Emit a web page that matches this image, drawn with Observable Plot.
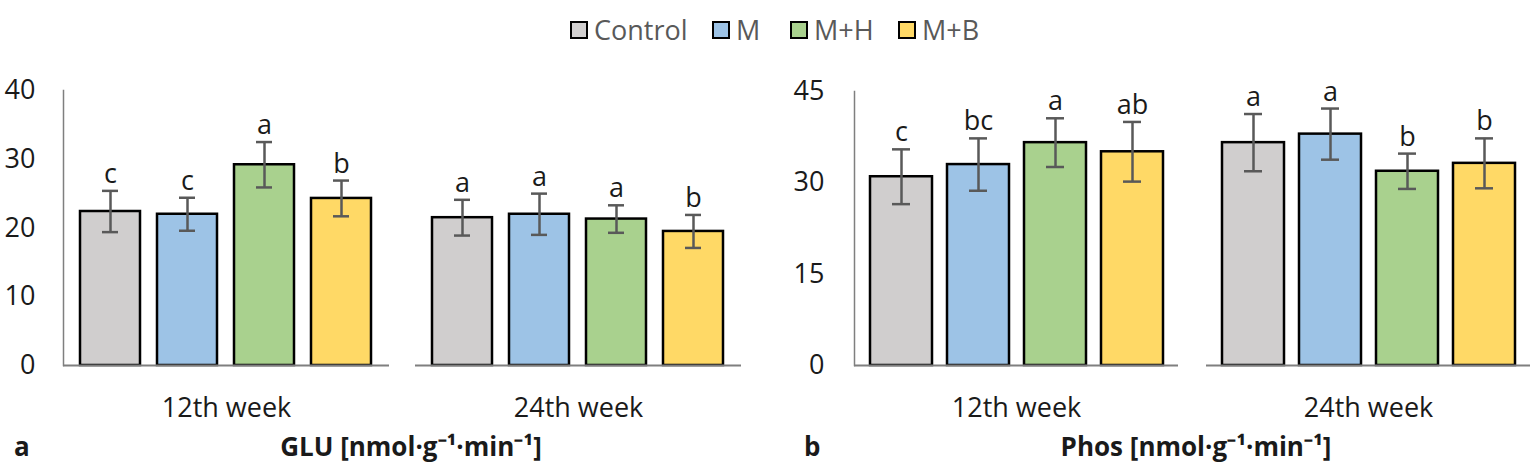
<!DOCTYPE html>
<html>
<head>
<meta charset="utf-8">
<script src="https://cdn.jsdelivr.net/npm/d3@7"></script>
<script src="https://cdn.jsdelivr.net/npm/@observablehq/plot@0.6"></script>
<style>
  html, body { margin: 0; padding: 0; background: #fff; }
  #root { position: relative; width: 1533px; height: 470px; overflow: hidden; font-family: "Open Sans", sans-serif; background: #fff; }
  .leg { position: absolute; top: 14px; display: flex; align-items: center; font-size: 27px; color: #595959; line-height: 32px; }
  .sw { width: 14px; height: 14px; border: 2.5px solid #000; margin-right: 6px; }
  .panel { position: absolute; top: 60px; }
  .lab { position: absolute; font-weight: bold; font-size: 26px; color: #1a1a1a; white-space: nowrap; line-height: 32px; }
</style>
</head>
<body>
<div id="root"></div>
<script>
const weeks = ["12th week", "24th week"];
const groups = ["Control", "M", "M+H", "M+B"];
const colors = ["#d0cece", "#9dc3e6", "#a9d18e", "#ffd966"];

const gluMean12 = [22.4, 22.0, 29.2, 24.3];
const gluErr12 = [3.0, 2.4, 3.3, 2.6];
const gluLet12 = ["c", "c", "a", "b"];
const gluMean24 = [21.5, 22.0, 21.3, 19.5];
const gluErr24 = [2.6, 3.0, 2.0, 2.4];
const gluLet24 = ["a", "a", "a", "b"];

const phosMean12 = [31.0, 33.0, 36.6, 35.1];
const phosErr12 = [4.5, 4.3, 4.0, 4.9];
const phosLet12 = ["c", "bc", "a", "ab"];
const phosMean24 = [36.6, 38.0, 31.9, 33.2];
const phosErr24 = [4.7, 4.2, 2.9, 4.1];
const phosLet24 = ["a", "a", "b", "b"];

const gluTicks = [0, 10, 20, 30, 40];
const phosTicks = [0, 15, 30, 45];

function rows(m12, e12, l12, m24, e24, l24) {
  const out = [];
  groups.forEach((g, i) => out.push({week: weeks[0], group: g, mean: m12[i], err: e12[i], letter: l12[i]}));
  groups.forEach((g, i) => out.push({week: weeks[1], group: g, mean: m24[i], err: e24[i], letter: l24[i]}));
  return out;
}

const glu = rows(gluMean12, gluErr12, gluLet12, gluMean24, gluErr24, gluLet24);
const phos = rows(phosMean12, phosErr12, phosLet12, phosMean24, phosErr24, phosLet24);

function panel({data, yMax, ticks, width, marginLeft, marginRight, marginTop, fxPad, xPad, tickPad}) {
  const lo = d => d.mean - d.err, hi = d => d.mean + d.err;
  const ins = 22;
  return Plot.plot({
    width, height: 380, marginTop, marginBottom: 75, marginLeft, marginRight,
    style: {fontFamily: "Open Sans", fontSize: "27px", color: "#1a1a1a", background: "transparent", overflow: "visible"},
    fx: {domain: weeks, paddingInner: fxPad, paddingOuter: 0, label: null, axis: "bottom", tickSize: 0, tickPadding: 32},
    x: {domain: groups, padding: xPad, axis: null},
    y: {domain: [0, yMax], ticks, tickSize: 0, tickPadding: tickPad, label: null},
    color: {domain: groups, range: colors},
    marks: [
      Plot.barY(data, {fx: "week", x: "group", y: "mean", fill: "group", stroke: "#000", strokeWidth: 2.5}),
      Plot.ruleX(data, {fx: "week", x: "group", y1: lo, y2: hi, stroke: "#595959", strokeWidth: 2.5}),
      Plot.tickY(data, {fx: "week", x: "group", y: lo, stroke: "#595959", strokeWidth: 2.5, insetLeft: ins, insetRight: ins}),
      Plot.tickY(data, {fx: "week", x: "group", y: hi, stroke: "#595959", strokeWidth: 2.5, insetLeft: ins, insetRight: ins}),
      Plot.text(data, {fx: "week", x: "group", y: hi, text: "letter", lineAnchor: "bottom", dy: -8, fontSize: 27, fill: "#1a1a1a"}),
      Plot.ruleY([0], {stroke: "#7f7f7f", strokeWidth: 2}),
      Plot.frame({anchor: "left", facetAnchor: "left", stroke: "#7f7f7f", strokeWidth: 1.5})
    ]
  });
}

const root = document.getElementById("root");

// legend
const legPos = [570, 712, 790, 898];
groups.forEach((g, i) => {
  const item = document.createElement("div");
  item.className = "leg";
  item.style.left = legPos[i] + "px";
  const sw = document.createElement("div");
  sw.className = "sw";
  sw.style.background = colors[i];
  const tx = document.createElement("span");
  tx.textContent = g;
  item.appendChild(sw);
  item.appendChild(tx);
  root.appendChild(item);
});

const left = panel({data: glu, yMax: 40, ticks: gluTicks, width: 766, marginLeft: 63, marginRight: 25, marginTop: 30, fxPad: 0.074, xPad: 0.22, tickPad: 28});
const wl = document.createElement("div");
wl.className = "panel"; wl.style.left = "0px";
wl.appendChild(left);
root.appendChild(wl);

const right = panel({data: phos, yMax: 45, ticks: phosTicks, width: 767, marginLeft: 87, marginRight: 2, marginTop: 31, fxPad: 0.079, xPad: 0.2, tickPad: 30});
const wr = document.createElement("div");
wr.className = "panel"; wr.style.left = "766px";
wr.appendChild(right);
root.appendChild(wr);

// bottom labels
function label(text, x, center) {
  const el = document.createElement("div");
  el.className = "lab";
  el.textContent = text;
  el.style.top = "430px";
  root.appendChild(el);
  const w = el.getBoundingClientRect().width;
  el.style.left = (center ? x - w / 2 : x) + "px";
}
label("a", 14, false);
label("GLU [nmol·g\u207B\u00B9·min\u207B\u00B9]", 411, true);
label("b", 804, false);
label("Phos [nmol·g\u207B\u00B9·min\u207B\u00B9]", 1196, true);
</script>
</body>
</html>
